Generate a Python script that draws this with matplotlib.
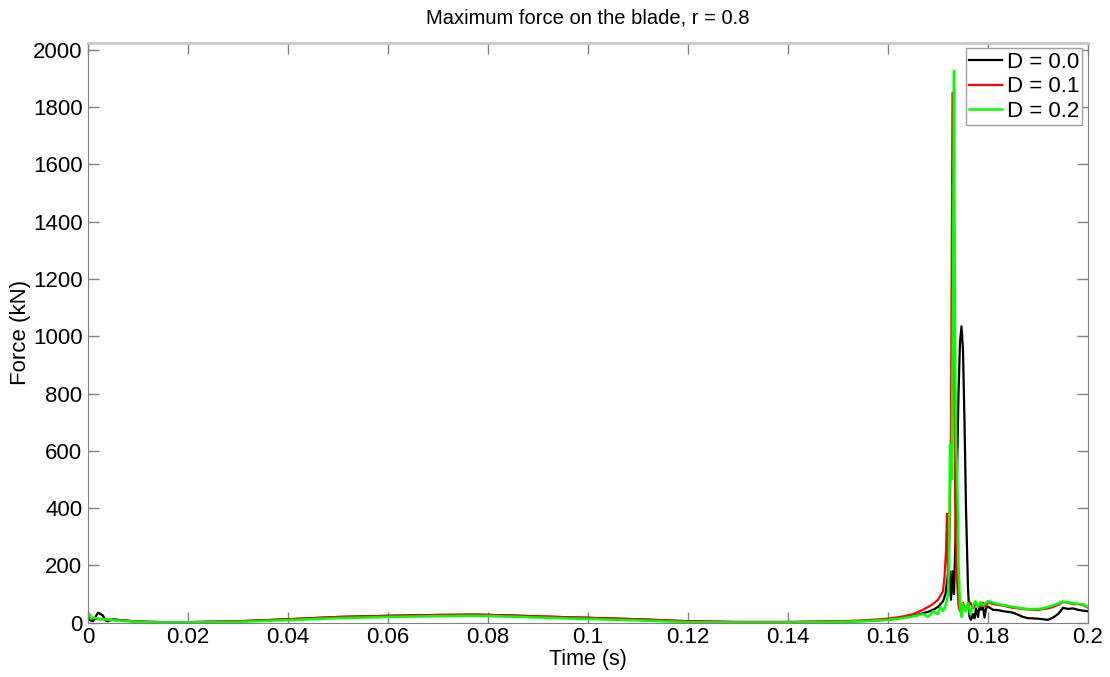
import numpy as np
import matplotlib
matplotlib.use("Agg")
import matplotlib.pyplot as plt

# D = 0.0 (black)
t_d0 = [0, 0.0005, 0.001, 0.0015, 0.002, 0.0025, 0.003, 0.0035, 0.004, 0.005, 0.007,
        0.01, 0.015, 0.02, 0.03, 0.04, 0.05, 0.06, 0.07, 0.078, 0.085, 0.09, 0.1,
        0.11, 0.12, 0.13, 0.14, 0.15, 0.155, 0.16, 0.163, 0.166, 0.168, 0.169,
        0.170, 0.1705, 0.171, 0.1715, 0.172, 0.1723, 0.1726, 0.1729, 0.1732,
        0.1735, 0.1738, 0.1741, 0.1744, 0.1747, 0.175, 0.1753, 0.1756, 0.176,
        0.1763, 0.1766, 0.177, 0.1773, 0.1776, 0.178, 0.1783, 0.1786, 0.179,
        0.1793, 0.1796, 0.18, 0.181, 0.182, 0.183, 0.184, 0.185, 0.186, 0.187,
        0.188, 0.189, 0.19, 0.191, 0.192, 0.193, 0.194, 0.195, 0.196, 0.197,
        0.198, 0.199, 0.2]
f_d0 = [15, 8, 5, 20, 35, 30, 25, 8, 5, 12, 8,
        4, 2, 2, 5, 12, 20, 24, 27, 28, 25, 22, 17,
        12, 5, 2, 2, 4, 6, 10, 18, 28, 38, 45,
        55, 65, 75, 100, 170, 180, 80, 180, 100,
        300, 520, 800, 980, 1035, 950, 700, 400, 120,
        20, 10, 30, 15, 50, 20, 60, 45, 55,
        18, 50, 56, 45, 44, 40, 38, 35, 28, 20,
        16, 15, 14, 12, 10, 18, 30, 52, 48, 50,
        45, 42, 40]

# D = 0.1 (red)
t_d1 = [0, 0.0005, 0.001, 0.002, 0.003, 0.005, 0.007, 0.01, 0.015, 0.02, 0.03,
        0.04, 0.05, 0.06, 0.07, 0.078, 0.085, 0.09, 0.1, 0.11, 0.12, 0.13, 0.14,
        0.15, 0.155, 0.16, 0.163, 0.165, 0.167, 0.168, 0.169, 0.170, 0.1705,
        0.171, 0.1713, 0.1716, 0.1718, 0.172, 0.1723, 0.1726, 0.1729, 0.1732,
        0.1735, 0.1738, 0.1741, 0.1744, 0.1747, 0.175, 0.1755, 0.176, 0.1765,
        0.177, 0.1775, 0.178, 0.1785, 0.179, 0.1795, 0.18, 0.181, 0.182, 0.183,
        0.184, 0.185, 0.186, 0.187, 0.188, 0.189, 0.19, 0.191, 0.192, 0.193,
        0.194, 0.195, 0.196, 0.197, 0.198, 0.199, 0.2]
f_d1 = [25, 15, 15, 12, 12, 10, 8, 4, 2, 2, 5,
        12, 20, 24, 27, 28, 25, 22, 17, 12, 5, 3, 3,
        5, 8, 14, 22, 30, 45, 55, 65, 80, 95,
        110, 160, 250, 380, 150, 300, 700, 1850, 900,
        300, 150, 60, 40, 55, 70, 45, 60, 70,
        50, 65, 62, 58, 70, 55, 72, 65, 62, 60,
        55, 52, 50, 48, 46, 45, 44, 48, 50, 55,
        62, 72, 70, 65, 65, 62, 52]

# D = 0.2 (green)
t_d2 = [0, 0.0003, 0.0006, 0.001, 0.002, 0.003, 0.005, 0.007, 0.01, 0.015, 0.02,
        0.03, 0.04, 0.05, 0.06, 0.07, 0.078, 0.085, 0.09, 0.1, 0.11, 0.12, 0.13,
        0.14, 0.15, 0.155, 0.16, 0.163, 0.165, 0.167, 0.168, 0.169, 0.170,
        0.1705, 0.171, 0.1715, 0.1718, 0.172, 0.1722, 0.1724, 0.1727, 0.1730,
        0.1732, 0.1734, 0.1736, 0.1738, 0.1741, 0.1744, 0.1747, 0.175, 0.1755,
        0.176, 0.1765, 0.177, 0.1775, 0.178, 0.1785, 0.179, 0.1795, 0.18, 0.181,
        0.182, 0.183, 0.184, 0.185, 0.186, 0.187, 0.188, 0.189, 0.19, 0.191,
        0.192, 0.193, 0.194, 0.195, 0.196, 0.197, 0.198, 0.199, 0.2]
f_d2 = [35, 30, 15, 18, 14, 12, 9, 6, 3, 1, 1,
        3, 9, 16, 20, 23, 24, 21, 18, 13, 8, 2, 1,
        1, 3, 5, 10, 16, 22, 30, 20, 40, 30,
        55, 40, 60, 80, 100, 200, 620, 500, 1100,
        1927, 1000, 620, 550, 200, 60, 20, 65, 40,
        70, 30, 60, 75, 55, 72, 60, 68, 75, 70,
        65, 62, 58, 55, 52, 50, 48, 47, 48, 50,
        55, 60, 66, 74, 72, 68, 66, 64, 55]

x_ticks = [0, 0.02, 0.04, 0.06, 0.08, 0.1, 0.12, 0.14, 0.16, 0.18, 0.2]
x_labels = ["0", "0.02", "0.04", "0.06", "0.08", "0.1", "0.12", "0.14", "0.16", "0.18", "0.2"]
y_ticks = list(range(0, 2001, 200))

plt.rcParams['font.family'] = "sans-serif"
plt.rcParams['font.sans-serif'] = ["Liberation Sans", "DejaVu Sans"]

fig = plt.figure(figsize=(11.1, 6.77), dpi=100)
ax = fig.add_axes([88 / 1110, (677 - 622.7) / 677, 1000 / 1110, 580 / 677])

ax.plot(t_d0, f_d0, color="k", lw=1.6, label="D = 0.0")
ax.plot(t_d1, f_d1, color="#ff0000", lw=1.6, label="D = 0.1")
ax.plot(t_d2, f_d2, color="#00ff00", lw=1.8, label="D = 0.2")

ax.set_xlim(0, 0.2)
ax.set_ylim(0, 2025)
ax.set_xticks(x_ticks)
ax.set_xticklabels(x_labels)
ax.set_yticks(y_ticks)
ax.tick_params(direction="in", length=8, width=1, color="#808080",
               top=True, right=True, labelsize=16)
ax.tick_params(axis="x", pad=3)
ax.tick_params(axis="y", pad=4)
for side in ["left", "bottom", "right"]:
    ax.spines[side].set_color("#808080")
ax.spines["top"].set_color("#c8c8c8")
ax.spines["top"].set_linewidth(2)

ax.set_xlabel("Time (s)", fontsize=15.5, labelpad=1)
ax.set_ylabel("Force (kN)", fontsize=16, labelpad=1)
ax.set_title("Maximum force on the blade, r = 0.8", fontsize=14.5, pad=14)

leg = ax.legend(loc="upper right", fontsize=16, fancybox=False, framealpha=1,
                borderaxespad=0.25, handlelength=1.5, handletextpad=0.2,
                labelspacing=0.17, borderpad=0.15)
leg.get_frame().set_edgecolor("#a0a0a0")

fig.savefig("out.png", dpi=100)
